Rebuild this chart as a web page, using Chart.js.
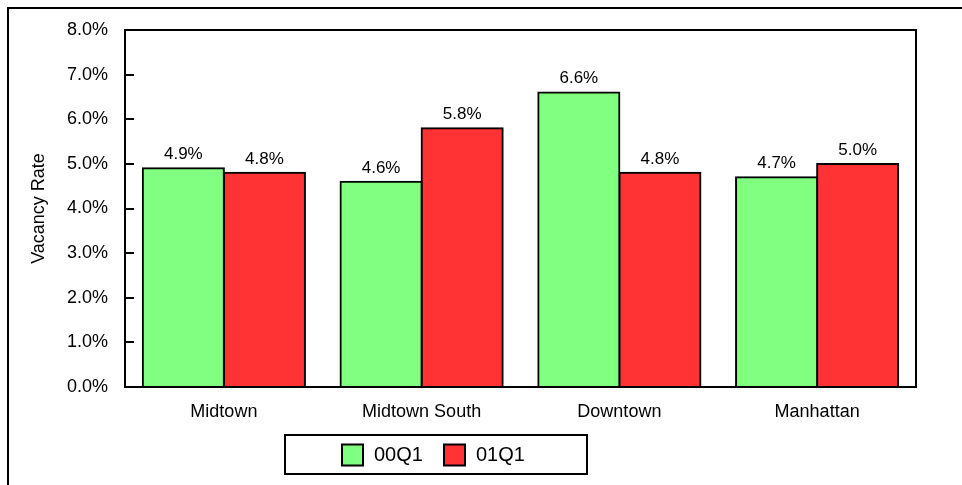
<!DOCTYPE html>
<html>
<head>
<meta charset="utf-8">
<script src="https://cdn.jsdelivr.net/npm/chart.js@4"></script>
<style>
    html, body { margin: 0; padding: 0; background: #fff; }
    #wrap { width: 962px; height: 485px; }
</style>
</head>
<body>
<div id="wrap"><canvas id="vacancyChart" width="962" height="485"></canvas></div>
<script>
const markets = ["Midtown", "Midtown South", "Downtown", "Manhattan"];
const q00 = [4.9, 4.6, 6.6, 4.7];
const q01 = [4.8, 5.8, 4.8, 5.0];
const seriesNames = ["00Q1", "01Q1"];
const seriesColors = ["#80ff80", "#ff3333"];

const FONT = "'Liberation Sans', Arial, sans-serif";

// frame, inside ticks, value labels and the boxed legend
const extras = {
    id: "extras",
    afterDraw(chart) {
        const ctx = chart.ctx;
        const area = chart.chartArea;
        const y = chart.scales.y;

        ctx.save();
        ctx.strokeStyle = "#000";
        ctx.lineWidth = 2;

        // outer frame, only left and top edges fall inside the canvas
        ctx.beginPath();
        ctx.moveTo(8, 485);
        ctx.lineTo(8, 8);
        ctx.lineTo(962, 8);
        ctx.stroke();

        // plot box
        ctx.strokeRect(area.left, area.top, area.right - area.left, area.bottom - area.top);

        // y ticks pointing inward
        y.ticks.forEach((t) => {
            const py = Math.round(y.getPixelForValue(t.value));
            ctx.beginPath();
            ctx.moveTo(area.left, py);
            ctx.lineTo(area.left + 9, py);
            ctx.stroke();
        });

        // value labels above bars
        ctx.fillStyle = "#000";
        ctx.font = "17px " + FONT;
        ctx.textAlign = "center";
        ctx.textBaseline = "alphabetic";
        chart.data.datasets.forEach((ds, i) => {
            chart.getDatasetMeta(i).data.forEach((bar, j) => {
                ctx.fillText(ds.data[j].toFixed(1) + "%", bar.x, bar.y - 9);
            });
        });

        // legend
        const box = { x: 285, y: 435, w: 302, h: 39 };
        ctx.lineWidth = 2;
        ctx.strokeRect(box.x, box.y, box.w, box.h);
        ctx.font = "20px " + FONT;
        ctx.textAlign = "left";
        ctx.textBaseline = "middle";
        const midY = box.y + box.h / 2;
        let x = 342;
        seriesNames.forEach((name, i) => {
            ctx.fillStyle = seriesColors[i];
            ctx.fillRect(x, midY - 10, 21, 21);
            ctx.strokeRect(x, midY - 10, 21, 21);
            ctx.fillStyle = "#000";
            ctx.fillText(name, x + 32, midY + 1);
            x += 102;
        });
        ctx.restore();
    },
};

new Chart(document.getElementById("vacancyChart"), {
    type: "bar",
    data: {
        labels: markets,
        datasets: [
            {
                label: seriesNames[0],
                data: q00,
                backgroundColor: seriesColors[0],
                borderColor: "#000",
                borderWidth: 2,
                borderSkipped: false,
                inflateAmount: 1,
            },
            {
                label: seriesNames[1],
                data: q01,
                backgroundColor: seriesColors[1],
                borderColor: "#000",
                borderWidth: 2,
                borderSkipped: false,
                inflateAmount: 1,
            },
        ],
    },
    options: {
        responsive: false,
        animation: false,
        devicePixelRatio: 1,
        layout: { padding: { top: 30, right: 46, left: 0, bottom: 0 } },
        datasets: { bar: { categoryPercentage: 0.82, barPercentage: 1.0 } },
        plugins: {
            legend: { display: false },
            tooltip: { enabled: false },
        },
        scales: {
            x: {
                grid: { display: false, drawTicks: false },
                border: { display: false },
                ticks: { color: "#000", font: { family: FONT, size: 18 }, padding: 14, maxRotation: 0 },
                afterFit: (s) => { s.height = 98; },
            },
            y: {
                min: 0,
                max: 8,
                grid: { display: false, drawTicks: false },
                border: { display: false },
                ticks: {
                    stepSize: 1,
                    color: "#000",
                    padding: 17,
                    font: { family: FONT, size: 18 },
                    callback: (v) => v.toFixed(1) + "%",
                },
                title: {
                    display: true,
                    text: "Vacancy Rate",
                    color: "#000",
                    font: { family: FONT, size: 18 },
                    padding: { top: 28, bottom: 0 },
                },
                afterFit: (s) => { s.width = 125; },
            },
        },
    },
    plugins: [extras],
});
</script>
</body>
</html>
